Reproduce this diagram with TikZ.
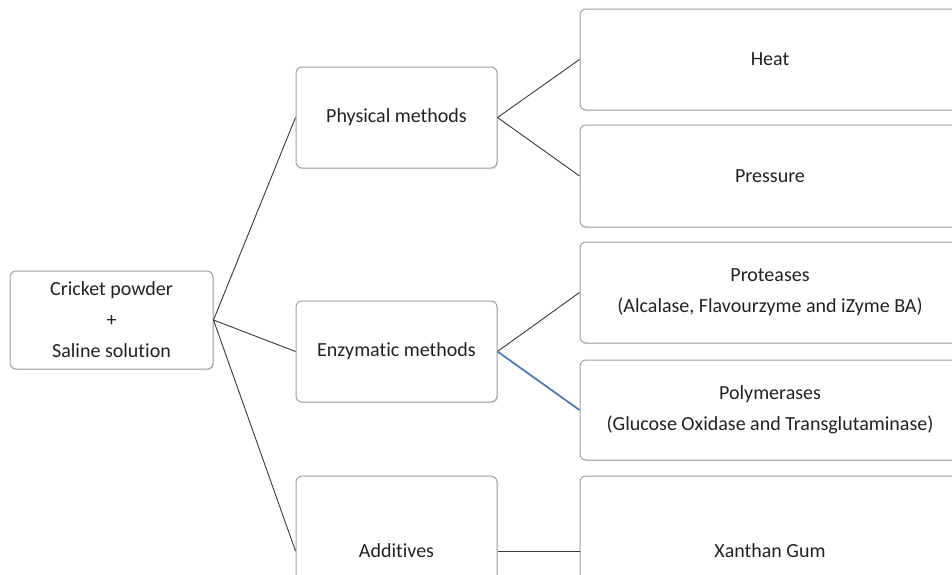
\documentclass[tikz,border=0pt]{standalone}
\usepackage{fontspec}
\setmainfont[Ligatures={NoCommon}]{Carlito}
\usetikzlibrary{shadows}
\definecolor{boxline}{HTML}{A0A0A0}
\definecolor{conn}{HTML}{3A3A3A}
\definecolor{blueconn}{HTML}{4A7EBB}
\definecolor{txt}{HTML}{222222}
\tikzset{
  box/.style={draw=boxline, line width=1pt, rounded corners=6pt, fill=white,
    drop shadow={opacity=0.2, shadow xshift=1pt, shadow yshift=-1.2pt},
    align=center, text=txt, inner sep=0pt,
    font=\fontsize{20}{31}\selectfont},
  conn/.style={draw=conn, line width=0.9pt},
  blueline/.style={draw=blueconn, line width=1.8pt}
}
\begin{document}
\begin{tikzpicture}[x=1pt,y=-1pt]
\useasboundingbox (0,0) rectangle (952,574);
\clip (0,0) rectangle (952,574);
\fill[white] (0,0) rectangle (952,574);
\node[box, minimum width=203pt, minimum height=98pt] (cp) at (111.5,320) {Cricket powder\\+\\Saline solution};
\node[box, minimum width=201pt, minimum height=101pt] (pm) at (396.5,117.5) {Physical methods};
\node[box, minimum width=201pt, minimum height=101pt] (em) at (396.5,351.5) {Enzymatic methods};
\node[box, minimum width=201pt, minimum height=150pt] (ad) at (396.5,551) {Additives};
\node[box, minimum width=380pt, minimum height=101pt] (heat) at (770,59.5) {Heat};
\node[box, minimum width=380pt, minimum height=102pt] (pres) at (770,176) {Pressure};
\node[box, minimum width=380pt, minimum height=101pt] (prot) at (770,292.5) {Proteases\\(Alcalase, Flavourzyme and iZyme BA)};
\node[box, minimum width=380pt, minimum height=100pt] (poly) at (770,410) {Polymerases\\(Glucose Oxidase and Transglutaminase)};
\node[box, minimum width=380pt, minimum height=150pt] (xan) at (770,551) {Xanthan Gum};
\draw[conn] (cp.east) -- (pm.west);
\draw[conn] (cp.east) -- (em.west);
\draw[conn] (cp.east) -- (ad.west);
\draw[conn] (pm.east) -- (heat.west);
\draw[conn] (pm.east) -- (pres.west);
\draw[conn] (em.east) -- (prot.west);
\draw[blueline] (em.east) -- (poly.west);
\draw[conn] (ad.east) -- (xan.west);
\end{tikzpicture}
\end{document}
